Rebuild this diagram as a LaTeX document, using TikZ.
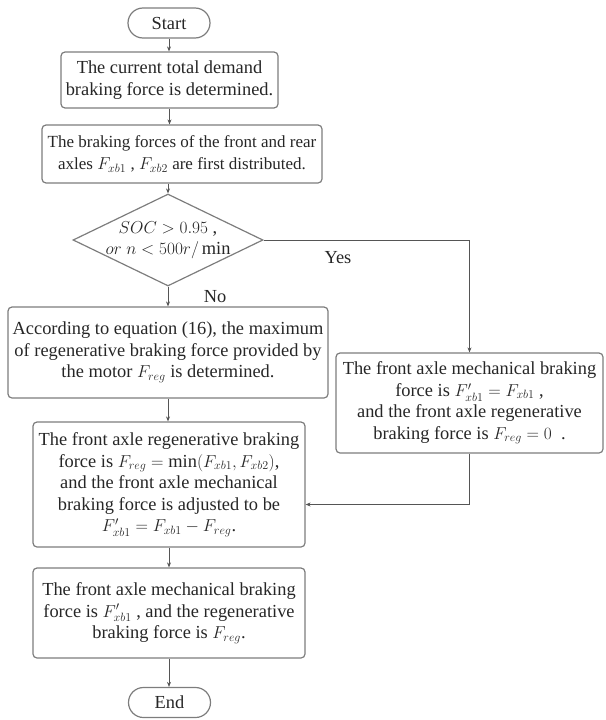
\documentclass[tikz,border=0pt]{standalone}
\usepackage{amsmath}
\usepackage{fontspec}
\setmainfont{Liberation Serif}
\usetikzlibrary{shapes.geometric,arrows.meta,calc}
\definecolor{edge}{RGB}{125,125,125}
\definecolor{wire}{RGB}{85,85,85}

\begin{document}
\begin{tikzpicture} [x=1pt,y=-1pt,>={Stealth[length=5pt,width=4pt]},
		every node/.style={font=\fontsize{18.4}{21.5}\selectfont,text=black!85},
		box/.style={draw=edge,line width=1.2pt,rounded corners=4pt,align=center,inner sep=0pt},
		term/.style={draw=edge,line width=1.2pt,rounded corners=15pt,minimum width=82pt,minimum height=30pt,inner sep=0pt},
		decide/.style={draw=edge,line width=1.2pt,diamond,minimum width=190pt,minimum height=92pt,inner sep=0pt},
		wire/.style={draw=wire,line width=0.9pt,->}]
			\useasboundingbox (0,0) rectangle (605,720);
			
			\node[term] (start) at (169,23) {Start};
			\node[box,minimum width=217pt,minimum height=56pt] (demand) at (169.5,80) {The current total demand\\braking force is determined.};
			\node[box,minimum width=280pt,minimum height=58pt,font=\fontsize{17}{21.5}\selectfont] (distrib) at (182,154) {The braking forces of the front and rear\\axles $F_{xb1}$ , $F_{xb2}$ are first distributed.};
			\node[decide] (soc) at (168,240) {};
			\node[align=center] (soctext) at (soc) {$SOC>0.95$ ,\\$or\ n<500r/\min$};
			\node[box,minimum width=320pt,minimum height=91pt] (motor) at (168,352.5) {According to equation (16), the maximum\\of regenerative braking force provided by\\the motor $F_{reg}$ is determined.};
			\node[box,minimum width=267pt,minimum height=100pt] (mech) at (469.5,403) {The front axle mechanical braking\\force is $F'_{xb1}=F_{xb1}$ ,\\and the front axle regenerative\\braking force is $F_{reg}=0$ \ .};
			\node[box,minimum width=272pt,minimum height=125pt] (regen) at (169,484.5) {The front axle regenerative braking\\force is $F_{reg}=\min(F_{xb1},F_{xb2})$,\\and the front axle mechanical\\braking force is adjusted to be\\$F'_{xb1}=F_{xb1}-F_{reg}$.};
			\node[box,minimum width=272pt,minimum height=90pt] (final) at (169,613) {The front axle mechanical braking\\force is $F'_{xb1}$ , and the regenerative\\braking force is $F_{reg}$.};
			\node[term] (stop) at (169.5,702.5) {End};
			\node (yes) at (338,258) {Yes};
			\node (no) at (215,297) {No};
			
			\draw[wire] (start) -- (start |- demand.north);
			\draw[wire] (demand) -- (demand |- distrib.north);
			\draw[wire] (distrib.south -| soc.north) -- (soc.north);
			\draw[wire] (soc.south) -- (soc.south |- motor.north);
			\draw[wire] (soc.east) -| (mech.north);
			\draw[wire] (motor) -- (motor.south |- regen.north);
			\draw[wire] (mech.south) |- ($(regen.east)+(0,20)$);
			\draw[wire] (regen) -- (final);
			\draw[wire] (final) -- (final.south |- stop.north);
\end{tikzpicture}
\end{document}
